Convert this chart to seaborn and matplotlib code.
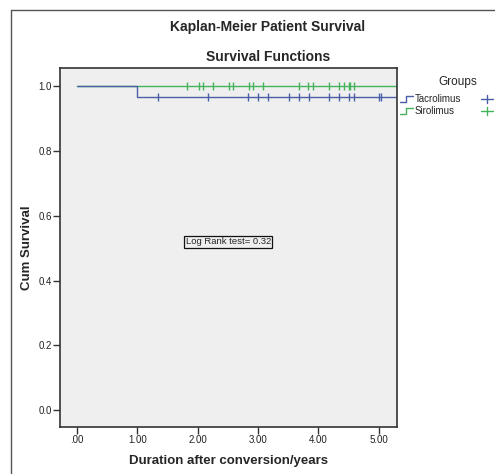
import matplotlib
matplotlib.use("Agg")
import matplotlib.pyplot as plt
import seaborn as sns
import pandas as pd
from matplotlib.lines import Line2D

sns.set_theme(style="white")
plt.rcParams['font.family'] = ['Liberation Sans', 'DejaVu Sans']

# ---- data ----
groups = ["Tacrolimus", "Sirolimus"]
tac_step_x = [0.0, 1.0, 1.0, 5.3]
tac_step_y = [1.0, 1.0, 0.965, 0.965]
sir_step_x = [0.0, 5.3]
sir_step_y = [1.0, 1.0]
tac_censor = [1.34, 2.17, 2.84, 3.00, 3.17, 3.51, 3.68, 3.85, 4.18, 4.34, 4.51, 4.59, 5.01, 5.03]
sir_censor = [1.83, 2.02, 2.08, 2.25, 2.51, 2.59, 2.85, 2.92, 3.08, 3.68, 3.83, 3.91,
              4.18, 4.34, 4.43, 4.50, 4.52, 4.59]
tac_level = 0.965
sir_level = 1.0
x_ticks = [0, 1, 2, 3, 4, 5]
x_ticklabels = [".00", "1.00", "2.00", "3.00", "4.00", "5.00"]
y_ticks = [0.0, 0.2, 0.4, 0.6, 0.8, 1.0]
y_ticklabels = ["0.0", "0.2", "0.4", "0.6", "0.8", "1.0"]
log_rank = "Log Rank test= 0.32"

blue = "#4a5fa8"
green = "#45b35a"

fig = plt.figure(figsize=(4.95, 4.74), dpi=100)
ax = fig.add_axes([60/495, 1-427/474, (397-60)/495, (427-68)/474])
ax.set_facecolor("#efeff0")

sns.lineplot(x=sir_step_x, y=sir_step_y, ax=ax, color=green, lw=1.0, estimator=None, sort=False)
sns.lineplot(x=tac_step_x, y=tac_step_y, ax=ax, color=blue, lw=1.0, estimator=None, sort=False)
sns.scatterplot(x=sir_censor, y=[sir_level]*len(sir_censor), ax=ax, marker="|", s=30,
                color=green, linewidth=1.0)
sns.scatterplot(x=tac_censor, y=[tac_level]*len(tac_censor), ax=ax, marker="|", s=30,
                color=blue, linewidth=1.0)

ax.set_xlim(-0.28, 5.30)
ax.set_ylim(-0.052, 1.056)
ax.set_xticks(x_ticks)
ax.set_xticklabels(x_ticklabels, fontsize=7, color="#222222")
ax.set_yticks(y_ticks)
ax.set_yticklabels(y_ticklabels, fontsize=7, color="#222222")
ax.tick_params(axis="both", direction="out", length=5, width=1, color="#333333", pad=1,
               bottom=True, left=True)
for sp in ax.spines.values():
    sp.set_color("#333333")
    sp.set_linewidth(1.2)

ax.set_xlabel("Duration after conversion/years", fontsize=9.5, fontweight="bold", labelpad=7)
ax.set_ylabel("Cum Survival", fontsize=9.5, fontweight="bold", labelpad=4)

ax.text(1.80, 0.52, log_rank, fontsize=6.8, ha="left", va="center",
        bbox=dict(boxstyle="square,pad=0.15", fc="none", ec="#111111", lw=0.9))

fig.text(268/495, 1-27/474, "Kaplan-Meier Patient Survival", fontsize=10, fontweight="bold",
         ha="center", va="center")
fig.text(268/495, 1-57/474, "Survival Functions", fontsize=10, fontweight="bold",
         ha="center", va="center")

# legend (drawn manually, SPSS style)
fig.text(458/495, 1-82/474, "Groups", fontsize=8.5, ha="center", va="center")
for yy, col, lab in [(99, blue, groups[0]), (111, green, groups[1])]:
    yf = 1 - yy/474
    dy = 3/474
    fig.add_artist(Line2D([400/495, 406/495, 406/495, 413/495],
                          [yf-dy, yf-dy, yf+dy, yf+dy], color=col, lw=1.0))
    fig.text(415/495, yf, lab, fontsize=7, ha="left", va="center")
    fig.add_artist(Line2D([481/495, 493/495], [yf, yf], color=col, lw=1.0))
    fig.add_artist(Line2D([487/495, 487/495], [yf-4/474, yf+4/474], color=col, lw=1.0))

# outer frame
fig.add_artist(Line2D([11/495, 11/495], [0, 1-10/474], color="#555555", lw=1.0))
fig.add_artist(Line2D([11/495, 1], [1-10/474, 1-10/474], color="#555555", lw=1.0))

fig.savefig("out.png", dpi=100)
